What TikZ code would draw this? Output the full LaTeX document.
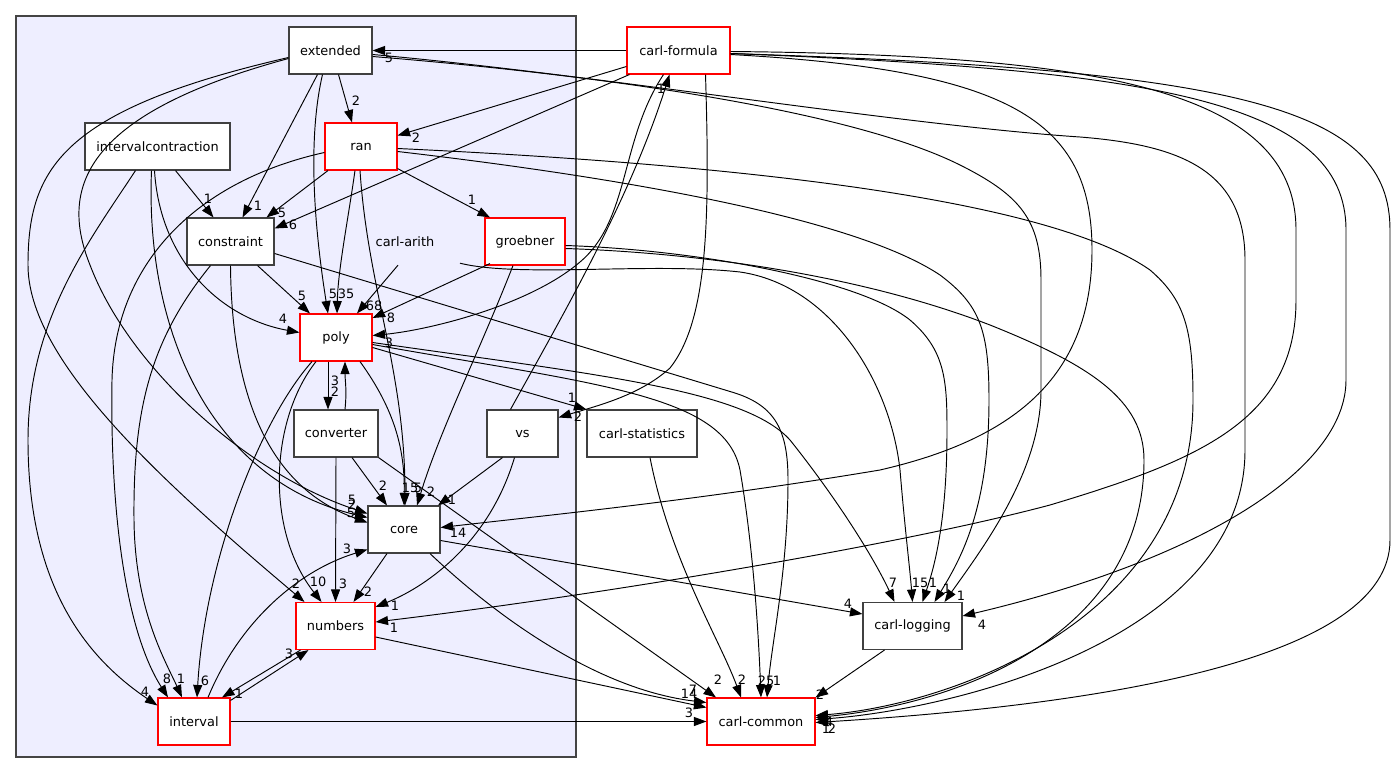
\documentclass[tikz,border=0pt]{standalone}
\usepackage{fontspec}
\setmainfont{DejaVu Sans}
\usetikzlibrary{arrows.meta}
\definecolor{clfill}{HTML}{EEEEFF}
\definecolor{clborder}{HTML}{444444}
\definecolor{bxborder}{HTML}{404040}
\newcommand\nf{\fontsize{12.9}{15}\selectfont}
\begin{document}
\begin{tikzpicture}[x=1pt,y=-1pt,
  dbox/.style={draw=bxborder, line width=1.1pt, fill=white, minimum height=47pt, inner sep=0pt, font=\nf},
  rbox/.style={dbox, draw=red},
  dep/.style={-{Triangle[length=12.5pt,width=9pt]}, line width=0.95pt, draw=black},
  lab/.style={font=\nf, inner sep=0pt}]
\useasboundingbox (0,0) rectangle (1400,773);
\fill[white] (0,0) rectangle (1400,773);
\draw[fill=clfill, draw=clborder, line width=1.1pt] (16,16) rectangle (576,757);

% nodes
\node[dbox, minimum width=83pt] (EX) at (330.5,50.5) {extended};
\node[rbox, minimum width=103pt] (CF) at (678.5,50.5) {carl-formula};
\node[dbox, minimum width=145pt] (IC) at (157.5,146.5) {intervalcontraction};
\node[rbox, minimum width=72pt] (RAN) at (361,146.5) {ran};
\node[dbox, minimum width=87pt] (CON) at (230.5,241.5) {constraint};
\node[font=\nf, inner sep=0pt, minimum width=72pt, minimum height=47pt] (ARITH) at (405,241.5) {carl-arith};
\node[rbox, minimum width=80pt] (GR) at (525,241.5) {groebner};
\node[rbox, minimum width=72pt] (PO) at (336,337.5) {poly};
\node[dbox, minimum width=84pt] (CV) at (336,433.5) {converter};
\node[dbox, minimum width=71pt] (VS) at (522.5,433.5) {vs};
\node[dbox, minimum width=110pt] (CS) at (642,433.5) {carl-statistics};
\node[dbox, minimum width=72pt] (CO) at (404,529.5) {core};
\node[rbox, minimum width=79pt] (NU) at (335.5,626) {numbers};
\node[dbox, minimum width=99pt] (CL) at (912.5,626) {carl-logging};
\node[rbox, minimum width=72pt] (IN) at (194,721.5) {interval};
\node[rbox, minimum width=108pt] (CC) at (761,721.5) {carl-common};

% edges
\draw[dep] (CF.west) -- (EX.east);
\draw[dep] ([xshift=8pt]EX.south) -- ([xshift=-9pt]RAN.north);
\draw[dep] ([xshift=-13pt]EX.south) -- ([xshift=12pt]CON.north);
\draw[dep] ([xshift=-8pt]EX.south) .. controls (305,150) and (318,250) .. ([xshift=-8pt]PO.north);
\draw[dep] ([xshift=-6pt]RAN.south) .. controls (348,220) and (338,270) .. ([xshift=1pt]PO.north);
\draw[dep] ([xshift=-33pt]RAN.south) -- ([xshift=36pt]CON.north);
\draw[dep] ([xshift=3pt]CF.south west) -- ([yshift=13pt]CON.east);
\draw[dep] ([yshift=-16pt]CF.west) -- ([yshift=11pt]RAN.east);
\draw[dep] ([yshift=2pt]RAN.south east) -- ([xshift=-35pt]GR.north);
\draw[dep] ([xshift=18pt]IC.south) -- ([xshift=-17pt]CON.north);
\draw[dep] ([xshift=-3pt]IC.south) .. controls (160,260) and (220,318) .. ([yshift=5pt]PO.west);
\draw[dep] ([xshift=-6pt]IC.south) .. controls (145,330) and (210,480) .. ([yshift=12pt]CO.west);
\draw[dep] ([xshift=-22pt]IC.south) .. controls (90,240) and (28,320) .. (28,440) .. controls (28,590) and (90,660) .. ([yshift=16pt]IN.west);
\draw[dep] ([yshift=-7pt]EX.west) .. controls (60,110) and (28,170) .. (28,265) .. controls (28,360) and (160,480) .. ([xshift=-31pt]NU.north);
\draw[dep] ([yshift=-8pt]EX.west) .. controls (80,115) and (60,190) .. (90,265) .. controls (130,370) and (250,475) .. ([yshift=16pt]CO.west);
\draw[dep] ([yshift=-6pt]RAN.west) .. controls (200,180) and (115,260) .. (112,380) .. controls (110,510) and (125,630) .. ([xshift=-26pt]IN.north);
\draw[dep] ([xshift=-20pt]CON.south) .. controls (150,340) and (133,410) .. (134,520) .. controls (135,610) and (165,660) .. ([xshift=-12pt]IN.north);
\draw[dep] ([xshift=27pt]CON.south) -- ([xshift=-26pt]PO.north);
\draw[dep] (CON.south) .. controls (232,430) and (290,495) .. ([yshift=7pt]CO.west);
\draw[dep] ([yshift=-12pt]CON.east) -- (735,393) .. controls (775,406) and (788,430) .. (788,480) .. controls (788,570) and (772,640) .. ([xshift=6pt]CC.north);
\draw[dep] ([xshift=-15pt]CF.south) .. controls (620,140) and (630,220) .. (580,262) .. controls (530,305) and (430,330) .. ([yshift=2pt]PO.east);
\draw[dep] ([xshift=-7pt]ARITH.south) -- ([xshift=21pt]PO.north);
\draw[dep] ([xshift=55pt,yshift=2pt]ARITH.south) .. controls (520,278) and (650,262) .. (740,272) .. controls (830,285) and (890,380) .. (900,470) .. controls (905,530) and (910,570) .. (CL.north);
\draw[dep] ([xshift=-35pt,yshift=2pt]GR.south) -- ([yshift=19.5pt]PO.east);
\draw[dep] ([xshift=-12pt]GR.south) .. controls (480,350) and (440,430) .. ([xshift=13pt]CO.north);
\draw[dep] ([xshift=-1pt]RAN.south) .. controls (368,290) and (405,370) .. ([xshift=1pt]CO.north);
\draw[dep] ([xshift=24pt]PO.south) .. controls (395,410) and (405,450) .. (CO.north);
\draw[dep] ([xshift=-8pt]PO.south) -- ([xshift=-8pt]CV.north);
\draw[dep] ([xshift=9pt]CV.north) .. controls (347,390) and (345,380) .. ([xshift=9pt]PO.south);
\draw[dep] ([xshift=-24pt]PO.south) .. controls (260,420) and (205,560) .. ([xshift=3pt]IN.north);
\draw[dep] ([xshift=-20pt]PO.south) .. controls (270,420) and (265,530) .. ([xshift=-14pt]NU.north);
\draw[dep] ([yshift=-10pt]PO.east) -- (CS.north west);
\draw[dep] ([yshift=-5pt]PO.east) .. controls (600,375) and (745,390) .. (790,440) .. controls (830,490) and (870,550) .. ([xshift=-18pt]CL.north);
\draw[dep] ([yshift=-7pt]PO.east) .. controls (600,385) and (725,395) .. (740,470) .. controls (752,540) and (758,620) .. (CC.north);
\draw[dep] (CV.south) -- (NU.north);
\draw[dep] ([xshift=16pt]CV.south) -- ([xshift=-17pt]CO.north);
\draw[dep] (CV.south east) -- ([xshift=-45pt]CC.north);
\draw[dep] ([xshift=-20pt]VS.south) -- ([xshift=34pt]CO.north);
\draw[dep] ([xshift=-8pt]VS.south) .. controls (490,540) and (430,585) .. ([yshift=19pt]NU.east);
\draw[dep] ([xshift=-12pt]VS.north) .. controls (560,320) and (630,200) .. ([xshift=-9pt]CF.south);
\draw[dep] ([xshift=27pt]CF.south) .. controls (710,220) and (708,320) .. (670,368) .. controls (640,395) and (600,405) .. ([yshift=16pt]VS.east);
\draw[dep] ([xshift=8pt]CS.south) .. controls (670,560) and (720,640) .. ([xshift=-20pt]CC.north);
\draw[dep] ([xshift=-17pt]CO.south) -- ([xshift=18pt]NU.north);
\draw[dep] ([yshift=-11pt]CO.east) -- ([yshift=12pt]CL.west);
\draw[dep] ([xshift=26pt]CO.south) .. controls (500,620) and (600,690) .. ([yshift=19pt]CC.west);
\draw[dep] ([yshift=-11pt]NU.east) -- ([yshift=14pt]CC.west);
\draw[dep] ([xshift=-35pt]NU.south) -- ([xshift=28pt]IN.north);
\draw[dep] ([yshift=-3pt]IN.north east) -- ([xshift=-27pt]NU.south);
\draw[dep] ([xshift=14pt]IN.north) .. controls (240,620) and (300,570) .. ([yshift=-20pt]CO.west);
\draw[dep] (IN.east) -- (CC.west);
\draw[dep] ([xshift=-28pt]CL.south) -- (CC.north east);
\draw[dep] ([yshift=-4pt]GR.east) .. controls (700,250) and (860,280) .. (910,320) .. controls (945,350) and (947,380) .. (947,430) .. controls (947,520) and (935,565) .. ([xshift=10pt]CL.north);
\draw[dep] ([yshift=-7pt]GR.east) .. controls (700,253) and (860,275) .. (990,325) .. controls (1090,365) and (1144,400) .. (1144,460) .. controls (1144,640) and (950,705) .. ([yshift=4pt]CC.east);
\draw[dep] ([yshift=-5pt]RAN.east) .. controls (600,175) and (850,215) .. (940,275) .. controls (980,305) and (989,330) .. (989,400) .. controls (989,510) and (960,560) .. ([xshift=22pt]CL.north);
\draw[dep] ([yshift=-2pt]RAN.east) .. controls (750,165) and (1050,200) .. (1150,270) .. controls (1185,300) and (1193,330) .. (1193,400) .. controls (1193,620) and (950,705) .. ([yshift=6pt]CC.east);
\draw[dep] ([yshift=-6pt]EX.east) .. controls (600,75) and (850,110) .. (960,165) .. controls (1020,195) and (1041,220) .. (1041,280) -- (1041,390) .. controls (1041,470) and (985,545) .. ([xshift=32pt]CL.north);
\draw[dep] ([yshift=-4pt]EX.east) .. controls (600,75) and (900,125) .. (1080,137) .. controls (1180,145) and (1245,170) .. (1245,260) -- (1245,450) .. controls (1245,640) and (950,710) .. ([yshift=2pt]CC.east);
\draw[dep] ([yshift=-4pt]CF.east) .. controls (1010,70) and (1092,120) .. (1092,250) .. controls (1092,380) and (1010,440) .. (880,470) .. controls (700,500) and (550,515) .. ([yshift=2pt]CO.east);
\draw[dep] ([yshift=-1pt]CF.east) .. controls (1100,55) and (1296,90) .. (1296,230) -- (1296,300) .. controls (1296,420) and (1200,460) .. (1050,505) .. controls (900,545) and (600,595) .. ([yshift=4pt]NU.east);
\draw[dep] ([yshift=-3pt]CF.east) .. controls (1150,70) and (1346,100) .. (1346,230) -- (1346,380) .. controls (1346,470) and (1200,560) .. ([yshift=10pt]CL.east);
\draw[dep] ([yshift=-3pt]CF.east) .. controls (1250,70) and (1390,110) .. (1390,230) -- (1390,540) .. controls (1390,660) and (1100,705) .. ([yshift=-1pt]CC.east);

% labels
\node[lab] (l1) at (389,58) {5};
\node[lab] (l2) at (356,101) {2};
\node[lab] (l3) at (258,206) {1};
\node[lab] (l4) at (333,294) {5};
\node[lab] (l5) at (346,294) {35};
\node[lab] (l6) at (282,213) {5};
\node[lab] (l7) at (293,225) {6};
\node[lab] (l8) at (416,138) {2};
\node[lab] (l9) at (472,200) {1};
\node[lab] (l10) at (208,199) {1};
\node[lab] (l11) at (283,319) {4};
\node[lab] (l12) at (352,505) {2};
\node[lab] (l13) at (145,692) {4};
\node[lab] (l14) at (296,584) {2};
\node[lab] (l15) at (352,500) {5};
\node[lab] (l16) at (167,679) {8};
\node[lab] (l17) at (181,679) {1};
\node[lab] (l18) at (302,296) {5};
\node[lab] (l19) at (351,513) {5};
\node[lab] (l20) at (777,681) {1};
\node[lab] (l21) at (389,343) {3};
\node[lab] (l22) at (374,306) {68};
\node[lab] (l23) at (920,583) {15};
\node[lab] (l24) at (391,318) {8};
\node[lab] (l25) at (431,492) {2};
\node[lab] (l26) at (418,488) {5};
\node[lab] (l27) at (410,488) {15};
\node[lab] (l28) at (335,392) {2};
\node[lab] (l29) at (335,381) {3};
\node[lab] (l30) at (205,681) {6};
\node[lab] (l31) at (318,582) {10};
\node[lab] (l32) at (572,398) {1};
\node[lab] (l33) at (893,583) {7};
\node[lab] (l34) at (766,681) {25};
\node[lab] (l35) at (343,584) {3};
\node[lab] (l36) at (383,486) {2};
\node[lab] (l37) at (718,680) {2};
\node[lab] (l38) at (452,500) {1};
\node[lab] (l39) at (395,606) {1};
\node[lab] (l40) at (661,89) {1};
\node[lab] (l41) at (578,417) {2};
\node[lab] (l42) at (742,680) {2};
\node[lab] (l43) at (368,592) {2};
\node[lab] (l44) at (848,604) {4};
\node[lab] (l45) at (689,694) {14};
\node[lab] (l46) at (693,690) {7};
\node[lab] (l47) at (239,694) {1};
\node[lab] (l48) at (289,654) {3};
\node[lab] (l49) at (347,549) {3};
\node[lab] (l50) at (689,713) {3};
\node[lab] (l51) at (820,695) {2};
\node[lab] (l52) at (933,583) {1};
\node[lab] (l53) at (826,722) {1};
\node[lab] (l54) at (947,589) {1};
\node[lab] (l55) at (829,722) {4};
\node[lab] (l56) at (961,596) {1};
\node[lab] (l57) at (826,729) {1};
\node[lab] (l58) at (458,533) {14};
\node[lab] (l59) at (394,628) {1};
\node[lab] (l60) at (982,625) {4};
\node[lab] (l61) at (832,729) {2};
\end{tikzpicture}
\end{document}
